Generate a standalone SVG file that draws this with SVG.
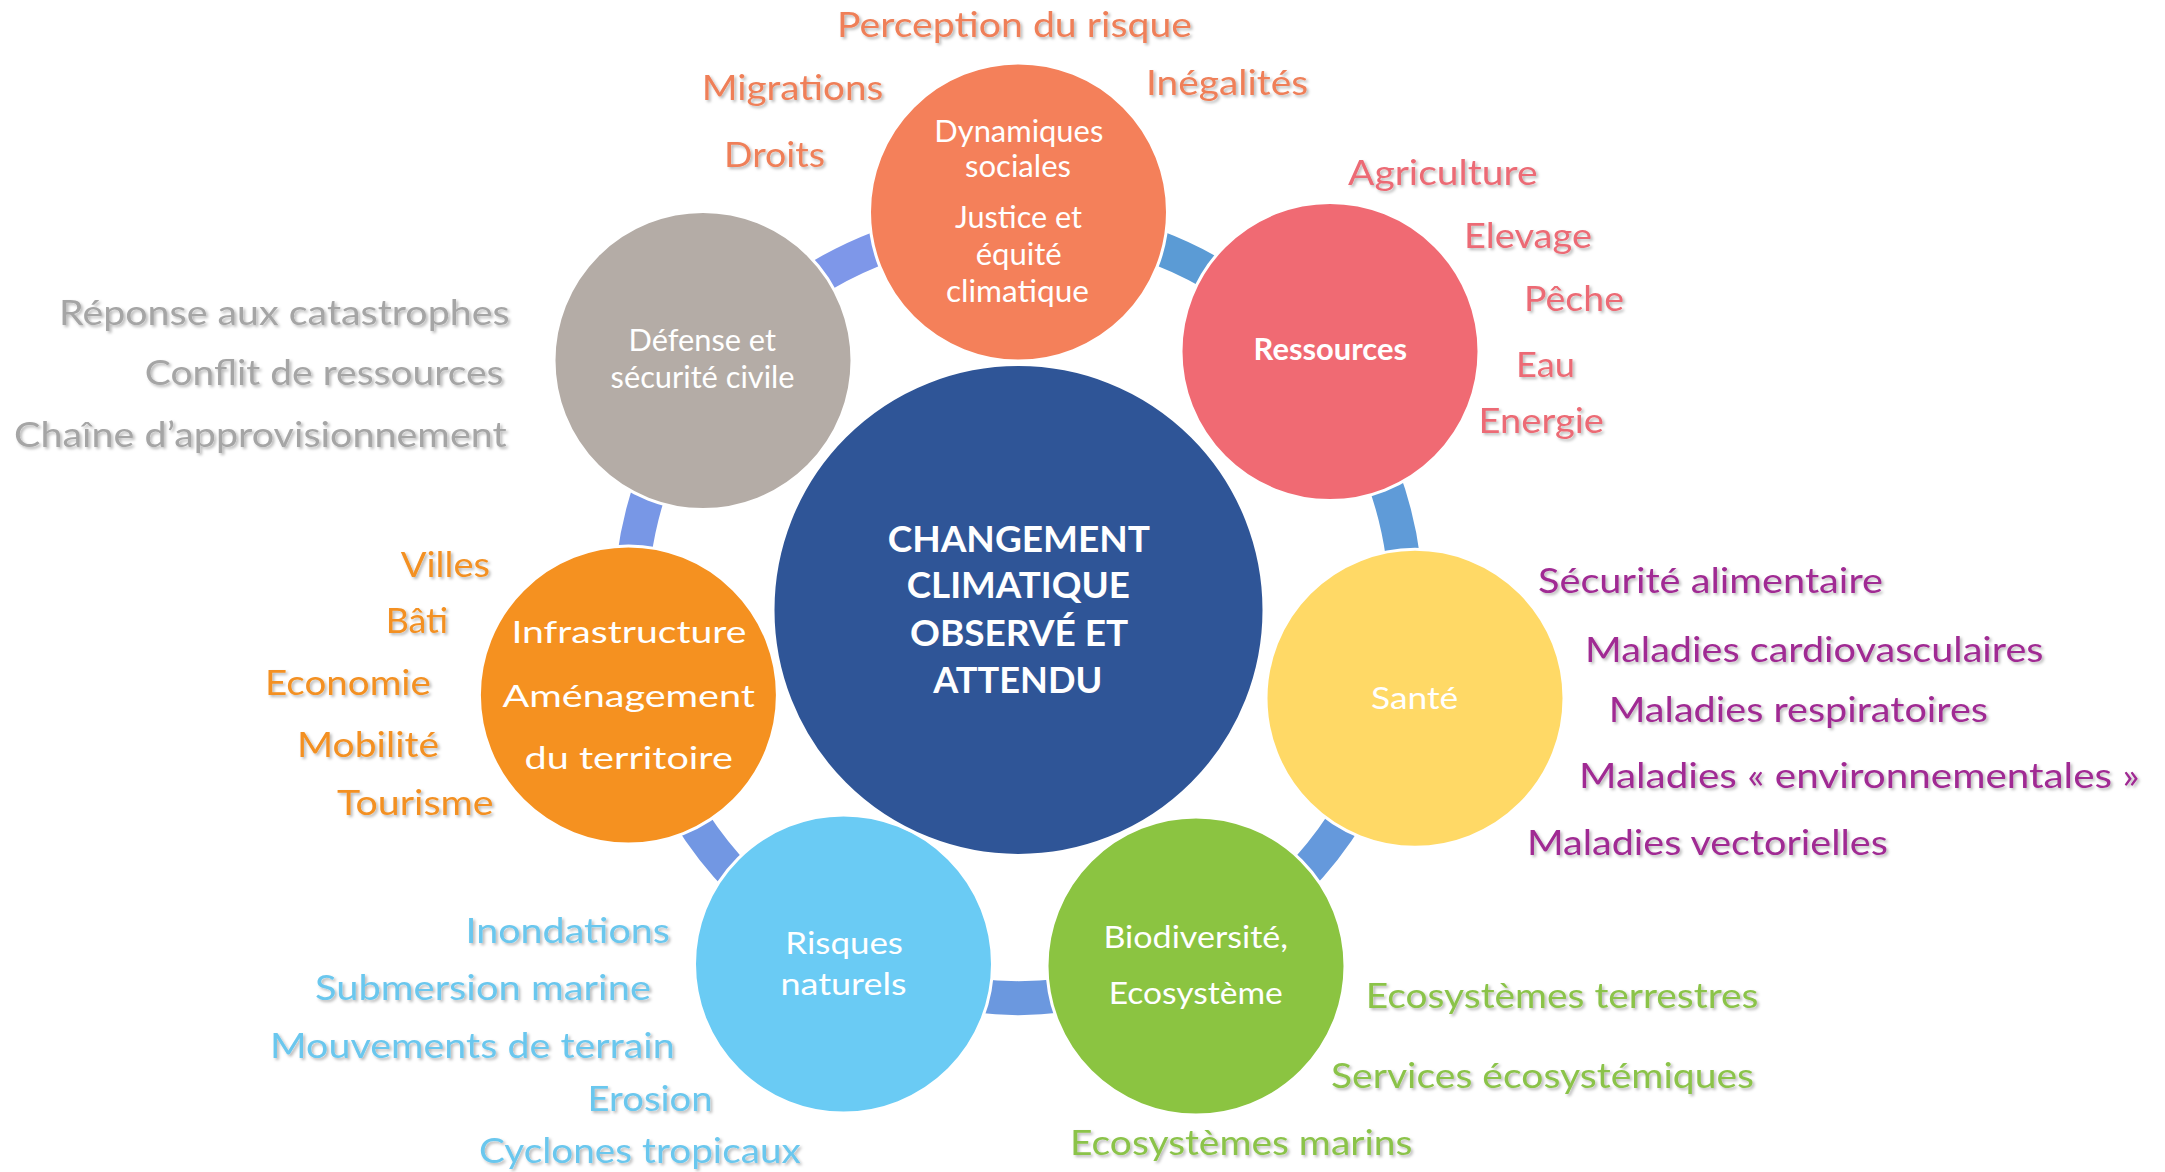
<svg xmlns="http://www.w3.org/2000/svg" width="2165" height="1172" viewBox="0 0 2165 1172">
<defs>
<style>
text{font-family:Lato,"Open Sans","Liberation Sans",sans-serif;}
.node{stroke:#ffffff;stroke-width:3;}
.in{fill:#ffffff;font-size:30px;}
.lbl{font-size:35px;filter:url(#sh);}
.conn{fill:none;stroke-width:34;stroke-linecap:butt;}
.ctr{fill:#ffffff;font-size:37px;font-weight:bold;}
</style>
<filter id="sh" x="-10%" y="-30%" width="120%" height="160%">
<feDropShadow dx="2" dy="2" stdDeviation="1.5" flood-color="#000000" flood-opacity="0.28"/>
</filter>
</defs>
<rect width="2165" height="1172" fill="#ffffff"/>
<g id="connectors">
<path class="conn" stroke="#5b9bd5" d="M1099.17 230.48 A388 388 0 0 1 1257.38 304.25"/>
<path class="conn" stroke="#5f9bd8" d="M1364.21 433.85 A388 388 0 0 1 1406.5 610"/>
<path class="conn" stroke="#6599dc" d="M1370.15 773.98 A388 388 0 0 1 1262.68 911.53"/>
<path class="conn" stroke="#6b98df" d="M1105.78 988.06 A388 388 0 0 1 931.22 988.06"/>
<path class="conn" stroke="#7297e3" d="M774.32 911.53 A388 388 0 0 1 666.85 773.98"/>
<path class="conn" stroke="#7897e6" d="M630.5 610 A388 388 0 0 1 669.77 439.91"/>
<path class="conn" stroke="#7e97e9" d="M774.32 308.47 A388 388 0 0 1 931.22 231.94"/>
</g>
<g id="node-dynamiques">
<circle class="node" cx="1018.5" cy="212" r="149" fill="#f4805a"/>
<text class="in" x="934.3" y="141.7" textLength="169" lengthAdjust="spacingAndGlyphs">Dynamiques</text>
<text class="in" x="965" y="176.7" textLength="106" lengthAdjust="spacingAndGlyphs">sociales</text>
<text class="in" x="955" y="228.3" textLength="127" lengthAdjust="spacingAndGlyphs">Justice et</text>
<text class="in" x="975.7" y="265" textLength="86" lengthAdjust="spacingAndGlyphs">équité</text>
<text class="in" x="946" y="301.7" textLength="143" lengthAdjust="spacingAndGlyphs">climatique</text>
<g fill="#ef7f58">
<text class="lbl" x="837" y="37" textLength="355" lengthAdjust="spacingAndGlyphs">Perception du risque</text>
<text class="lbl" x="1146" y="95" textLength="162" lengthAdjust="spacingAndGlyphs">Inégalités</text>
<text class="lbl" x="701.7" y="100" textLength="181.6" lengthAdjust="spacingAndGlyphs">Migrations</text>
<text class="lbl" x="724" y="167.3" textLength="101" lengthAdjust="spacingAndGlyphs">Droits</text>
</g>
</g>
<g id="node-ressources">
<circle class="node" cx="1330" cy="351.5" r="149" fill="#f06a73"/>
<text class="in" x="1253.6" y="360" font-size="27" font-weight="bold" textLength="153.4" lengthAdjust="spacingAndGlyphs">Ressources</text>
<g fill="#ec6b74">
<text class="lbl" x="1348" y="185" textLength="189.5" lengthAdjust="spacingAndGlyphs">Agriculture</text>
<text class="lbl" x="1464" y="248" textLength="128" lengthAdjust="spacingAndGlyphs">Elevage</text>
<text class="lbl" x="1524" y="310.7" textLength="100" lengthAdjust="spacingAndGlyphs">Pêche</text>
<text class="lbl" x="1516" y="376.7" textLength="59" lengthAdjust="spacingAndGlyphs">Eau</text>
<text class="lbl" x="1478.6" y="433.3" textLength="125.4" lengthAdjust="spacingAndGlyphs">Energie</text>
</g>
</g>
<g id="node-sante">
<circle class="node" cx="1415" cy="698.3" r="149" fill="#ffd966"/>
<text class="in" x="1371" y="709.3" font-size="31" textLength="87.3" lengthAdjust="spacingAndGlyphs">Santé</text>
<g fill="#a02b93">
<text class="lbl" x="1538" y="593.3" textLength="345" lengthAdjust="spacingAndGlyphs">Sécurité alimentaire</text>
<text class="lbl" x="1585" y="661.7" textLength="458.5" lengthAdjust="spacingAndGlyphs">Maladies cardiovasculaires</text>
<text class="lbl" x="1608.7" y="721.7" textLength="379.3" lengthAdjust="spacingAndGlyphs">Maladies respiratoires</text>
<text class="lbl" x="1579" y="788.3" textLength="560.7" lengthAdjust="spacingAndGlyphs">Maladies « environnementales »</text>
<text class="lbl" x="1527" y="855" textLength="360.8" lengthAdjust="spacingAndGlyphs">Maladies vectorielles</text>
</g>
</g>
<g id="node-biodiversite">
<circle class="node" cx="1196" cy="966" r="149" fill="#8bc441"/>
<text class="in" x="1103.4" y="947.7" textLength="184.6" lengthAdjust="spacingAndGlyphs">Biodiversité,</text>
<text class="in" x="1108.7" y="1004" textLength="174.1" lengthAdjust="spacingAndGlyphs">Ecosystème</text>
<g fill="#8bc34a">
<text class="lbl" x="1365.8" y="1008.3" textLength="392.6" lengthAdjust="spacingAndGlyphs">Ecosystèmes terrestres</text>
<text class="lbl" x="1331" y="1088.3" textLength="423" lengthAdjust="spacingAndGlyphs">Services écosystémiques</text>
<text class="lbl" x="1070" y="1155" textLength="342.4" lengthAdjust="spacingAndGlyphs">Ecosystèmes marins</text>
</g>
</g>
<g id="node-risques">
<circle class="node" cx="843.5" cy="964" r="149" fill="#6acbf4"/>
<text class="in" x="785.3" y="954" font-size="31" textLength="117.7" lengthAdjust="spacingAndGlyphs">Risques</text>
<text class="in" x="780.5" y="995" font-size="31" textLength="126" lengthAdjust="spacingAndGlyphs">naturels</text>
<g fill="#6ac7ee">
<text class="lbl" x="465.4" y="943.3" textLength="204.6" lengthAdjust="spacingAndGlyphs">Inondations</text>
<text class="lbl" x="315" y="1000" textLength="336" lengthAdjust="spacingAndGlyphs">Submersion marine</text>
<text class="lbl" x="270" y="1057.7" textLength="404.8" lengthAdjust="spacingAndGlyphs">Mouvements de terrain</text>
<text class="lbl" x="587.6" y="1110.7" textLength="125" lengthAdjust="spacingAndGlyphs">Erosion</text>
<text class="lbl" x="479" y="1162.7" textLength="321.8" lengthAdjust="spacingAndGlyphs">Cyclones tropicaux</text>
</g>
</g>
<g id="node-infrastructure">
<circle class="node" cx="628.4" cy="695" r="149" fill="#f59120"/>
<text class="in" x="511.4" y="642.7" font-size="38" textLength="235" lengthAdjust="spacingAndGlyphs">Infrastructure</text>
<text class="in" x="502.5" y="706.7" font-size="38" textLength="252.5" lengthAdjust="spacingAndGlyphs">Aménagement</text>
<text class="in" x="524.6" y="769.3" font-size="38" textLength="208.3" lengthAdjust="spacingAndGlyphs">du territoire</text>
<g fill="#f39021">
<text class="lbl" x="400.7" y="576.7" textLength="89.3" lengthAdjust="spacingAndGlyphs">Villes</text>
<text class="lbl" x="385.7" y="633.3" textLength="62.5" lengthAdjust="spacingAndGlyphs">Bâti</text>
<text class="lbl" x="265" y="695" textLength="166" lengthAdjust="spacingAndGlyphs">Economie</text>
<text class="lbl" x="297" y="756.7" textLength="142" lengthAdjust="spacingAndGlyphs">Mobilité</text>
<text class="lbl" x="337" y="815" textLength="156.6" lengthAdjust="spacingAndGlyphs">Tourisme</text>
</g>
</g>
<g id="node-defense">
<circle class="node" cx="703" cy="360.5" r="149" fill="#b4aca6"/>
<text class="in" x="628.5" y="350.7" font-size="29" textLength="147.5" lengthAdjust="spacingAndGlyphs">Défense et</text>
<text class="in" x="610.6" y="388.3" font-size="29" textLength="184" lengthAdjust="spacingAndGlyphs">sécurité civile</text>
<g fill="#a5a5a5">
<text class="lbl" x="59" y="325" textLength="450.6" lengthAdjust="spacingAndGlyphs">Réponse aux catastrophes</text>
<text class="lbl" x="144.8" y="385" textLength="358.6" lengthAdjust="spacingAndGlyphs">Conflit de ressources</text>
<text class="lbl" x="14" y="446.7" textLength="492.7" lengthAdjust="spacingAndGlyphs">Chaîne d’approvisionnement</text>
</g>
</g>
<g id="node-center">
<circle class="node" cx="1018.5" cy="610" r="245.5" fill="#2f5597"/>
<text class="ctr" x="887.7" y="551.7" textLength="262.3" lengthAdjust="spacingAndGlyphs">CHANGEMENT</text>
<text class="ctr" x="906.7" y="598.3" textLength="223.3" lengthAdjust="spacingAndGlyphs">CLIMATIQUE</text>
<text class="ctr" x="910" y="646" textLength="218.3" lengthAdjust="spacingAndGlyphs">OBSERVÉ ET</text>
<text class="ctr" x="933.3" y="692.7" textLength="169" lengthAdjust="spacingAndGlyphs">ATTENDU</text>
</g>
</svg>
